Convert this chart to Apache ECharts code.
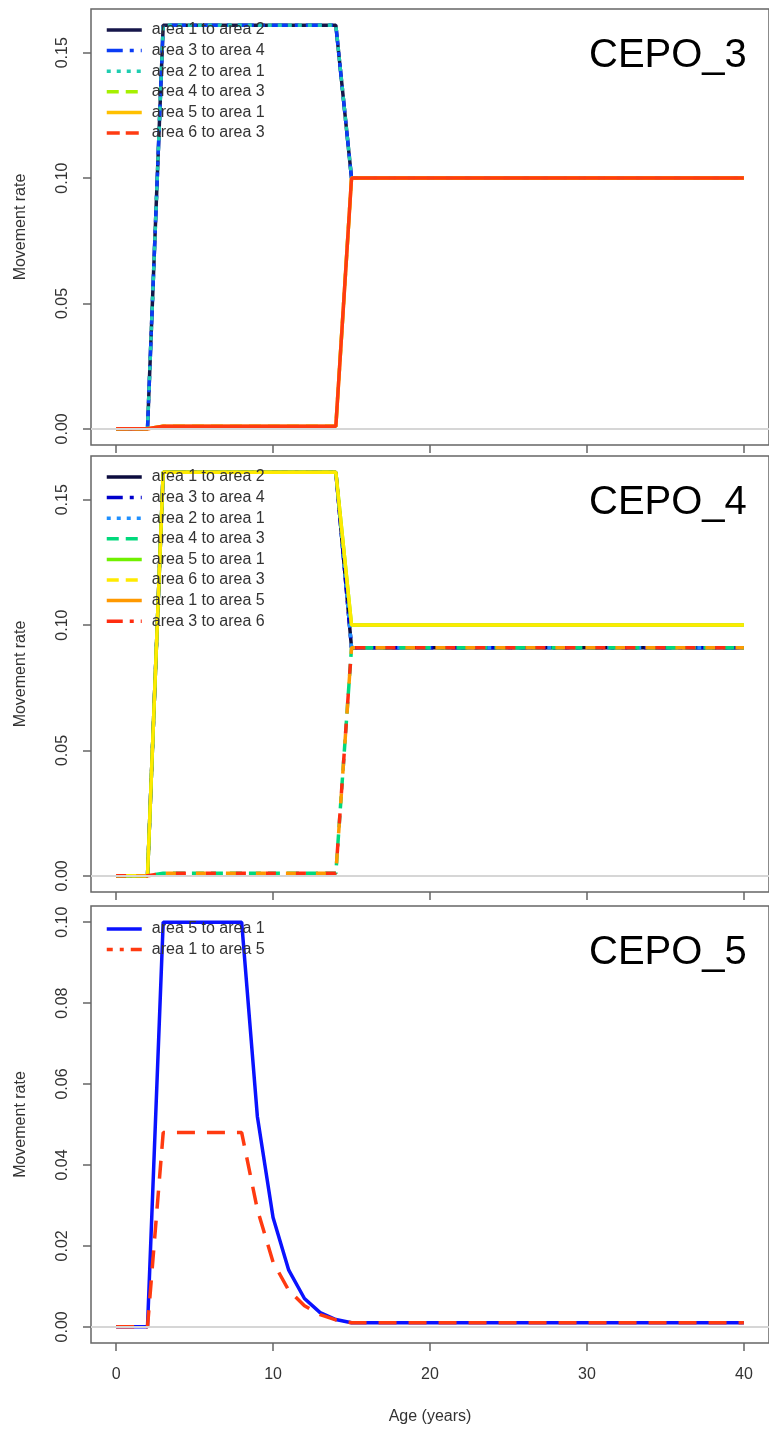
<!DOCTYPE html>
<html>
<head>
<meta charset="utf-8">
<script src="https://cdn.jsdelivr.net/npm/echarts@6/dist/echarts.min.js"></script>
<style>
html, body { margin: 0; padding: 0; background: #fff; }
#chart { width: 769px; height: 1431px; }
</style>
</head>
<body>
<div id="chart"></div>
<script>
const ages = [0, 1, 2, 3, 4, 5, 6, 7, 8, 9, 10, 11, 12, 13, 14, 15, 16, 17, 18, 19, 20,
  21, 22, 23, 24, 25, 26, 27, 28, 29, 30, 31, 32, 33, 34, 35, 36, 37, 38, 39, 40];
const xTicks = [0, 10, 20, 30, 40];
const yTicksWide = [0, 0.05, 0.1, 0.15];
const yTicksNarrow = [0, 0.02, 0.04, 0.06, 0.08, 0.1];
const panelTitles = ['CEPO_3', 'CEPO_4', 'CEPO_5'];

// CEPO_3
const cepo3Early = [0, 0, 0,
  0.161, 0.161, 0.161, 0.161, 0.161, 0.161, 0.161, 0.161, 0.161, 0.161, 0.161, 0.161,
  0.1, 0.1, 0.1, 0.1, 0.1, 0.1, 0.1, 0.1, 0.1, 0.1, 0.1, 0.1, 0.1,
  0.1, 0.1, 0.1, 0.1, 0.1, 0.1, 0.1, 0.1, 0.1, 0.1, 0.1, 0.1, 0.1];
const cepo3Late = [0, 0, 0,
  0.001, 0.001, 0.001, 0.001, 0.001, 0.001, 0.001, 0.001, 0.001, 0.001, 0.001, 0.001,
  0.1, 0.1, 0.1, 0.1, 0.1, 0.1, 0.1, 0.1, 0.1, 0.1, 0.1, 0.1, 0.1,
  0.1, 0.1, 0.1, 0.1, 0.1, 0.1, 0.1, 0.1, 0.1, 0.1, 0.1, 0.1, 0.1];

// CEPO_4
const cepo4Top = [0, 0, 0,
  0.161, 0.161, 0.161, 0.161, 0.161, 0.161, 0.161, 0.161, 0.161, 0.161, 0.161, 0.161,
  0.1, 0.1, 0.1, 0.1, 0.1, 0.1, 0.1, 0.1, 0.1, 0.1, 0.1, 0.1, 0.1,
  0.1, 0.1, 0.1, 0.1, 0.1, 0.1, 0.1, 0.1, 0.1, 0.1, 0.1, 0.1, 0.1];
const cepo4Mid = [0, 0, 0,
  0.161, 0.161, 0.161, 0.161, 0.161, 0.161, 0.161, 0.161, 0.161, 0.161, 0.161, 0.161,
  0.091, 0.091, 0.091, 0.091, 0.091, 0.091, 0.091, 0.091, 0.091, 0.091, 0.091, 0.091, 0.091,
  0.091, 0.091, 0.091, 0.091, 0.091, 0.091, 0.091, 0.091, 0.091, 0.091, 0.091, 0.091, 0.091];
const cepo4Low = [0, 0, 0,
  0.001, 0.001, 0.001, 0.001, 0.001, 0.001, 0.001, 0.001, 0.001, 0.001, 0.001, 0.001,
  0.091, 0.091, 0.091, 0.091, 0.091, 0.091, 0.091, 0.091, 0.091, 0.091, 0.091, 0.091, 0.091,
  0.091, 0.091, 0.091, 0.091, 0.091, 0.091, 0.091, 0.091, 0.091, 0.091, 0.091, 0.091, 0.091];

// CEPO_5
const cepo5Blue = [0, 0, 0,
  0.1, 0.1, 0.1, 0.1, 0.1, 0.1,
  0.052, 0.027, 0.014, 0.007, 0.0035, 0.0018,
  0.001, 0.001, 0.001, 0.001, 0.001, 0.001, 0.001, 0.001, 0.001, 0.001, 0.001, 0.001, 0.001,
  0.001, 0.001, 0.001, 0.001, 0.001, 0.001, 0.001, 0.001, 0.001, 0.001, 0.001, 0.001, 0.001];
const cepo5Red = [0, 0, 0,
  0.048, 0.048, 0.048, 0.048, 0.048, 0.048,
  0.029, 0.016, 0.009, 0.0052, 0.003, 0.0017,
  0.001, 0.001, 0.001, 0.001, 0.001, 0.001, 0.001, 0.001, 0.001, 0.001, 0.001, 0.001, 0.001,
  0.001, 0.001, 0.001, 0.001, 0.001, 0.001, 0.001, 0.001, 0.001, 0.001, 0.001, 0.001, 0.001];

const FONT = "'Liberation Sans', Arial, sans-serif";
const DOTDASH = [16, 7, 4, 7], DOTTED = [4, 6], DASHED = [12, 7];
const NONE = 'rgba(0,0,0,0)';

// [name, values, color, plot dash, legend dash, dash offset]
const panels = [
  {
    top: 9, height: 436, yMin: -0.00644, yMax: 0.16744, yTicks: yTicksWide,
    lines: [
      ['area 1 to area 2', cepo3Early, '#16164a', 'solid', 'solid'],
      ['area 3 to area 4', cepo3Early, '#0b3cf5', DOTDASH, DOTDASH],
      ['area 2 to area 1', cepo3Early, '#1fcdb0', DOTTED, DOTTED],
      ['area 4 to area 3', cepo3Late, '#a6f000', DASHED, DASHED],
      ['area 5 to area 1', cepo3Late, '#ffc000', 'solid', 'solid'],
      ['area 6 to area 3', cepo3Late, '#ff3b12', 'solid', [13, 6]]
    ]
  },
  {
    top: 456, height: 436, yMin: -0.00644, yMax: 0.16744, yTicks: yTicksWide,
    lines: [
      ['area 1 to area 2', cepo4Mid, '#0c0c3e', 'solid', 'solid'],
      ['area 3 to area 4', cepo4Mid, '#0000cc', DOTDASH, DOTDASH],
      ['area 2 to area 1', cepo4Mid, '#1e8fff', DOTTED, DOTTED],
      ['area 4 to area 3', cepo4Low, '#00d97c', DASHED, DASHED],
      ['area 5 to area 1', cepo4Top, '#70f000', 'solid', 'solid'],
      ['area 6 to area 3', cepo4Top, '#ffea00', 'solid', DASHED],
      ['area 1 to area 5', cepo4Low, '#ff9900', [10, 20], 'solid', 10],
      ['area 3 to area 6', cepo4Low, '#ff2d10', [10, 20], DOTDASH]
    ]
  },
  {
    top: 906, height: 437, yMin: -0.004, yMax: 0.104, yTicks: yTicksNarrow,
    lines: [
      ['area 5 to area 1', cepo5Blue, '#0a12ff', 'solid', 'solid'],
      ['area 1 to area 5', cepo5Red, '#ff3a10', [18, 12], DOTDASH]
    ]
  }
];

const chart = echarts.init(document.getElementById('chart'), null, { renderer: 'canvas' });

const grid = [], xAxis = [], yAxis = [], series = [], legend = [], title = [];
panels.forEach((p, i) => {
  grid.push({ left: 91, top: p.top, width: 684, height: p.height, show: true,
    borderColor: '#666', borderWidth: 1.5, backgroundColor: 'transparent' });
  xAxis.push({
    type: 'value', gridIndex: i, min: -1.6, max: 41.6,
    axisLine: { show: false, onZero: false }, splitLine: { show: false },
    axisTick: { show: true, customValues: xTicks, length: 8, lineStyle: { color: '#666', width: 1.5 } },
    axisLabel: { show: i === 2, customValues: xTicks, fontSize: 16, color: '#333', fontFamily: FONT, margin: 24 },
    name: i === 2 ? 'Age (years)' : '', nameLocation: 'middle', nameGap: 66,
    nameTextStyle: { fontSize: 16, color: '#333', fontFamily: FONT }
  });
  yAxis.push({
    type: 'value', gridIndex: i, min: p.yMin, max: p.yMax,
    axisLine: { show: false, onZero: false }, splitLine: { show: false },
    axisTick: { show: true, customValues: p.yTicks, length: 8, lineStyle: { color: '#666', width: 1.5 } },
    axisLabel: { customValues: p.yTicks, rotate: 90, fontSize: 16, color: '#333', fontFamily: FONT,
      margin: 20, formatter: v => v.toFixed(2) },
    name: 'Movement rate', nameLocation: 'middle', nameGap: 62,
    nameTextStyle: { fontSize: 16, color: '#333', fontFamily: FONT }
  });
  // light grey zero line, under the curves
  series.push({
    type: 'line', xAxisIndex: i, yAxisIndex: i, data: [[0, 0]], symbol: 'none',
    lineStyle: { opacity: 0 }, z: 1, silent: true, legendHoverLink: false,
    markLine: { silent: true, symbol: ['none', 'none'], label: { show: false },
      lineStyle: { color: '#d6d6d6', width: 2, type: 'solid' }, data: [{ yAxis: 0 }] }
  });
  p.lines.forEach(([name, values, color, dash, legendDash, offset]) => {
    series.push({
      name, type: 'line', xAxisIndex: i, yAxisIndex: i, z: 2,
      data: ages.map((a, k) => [a, values[k]]),
      symbol: 'none', showSymbol: false,
      itemStyle: { color },
      lineStyle: { color, width: 3.5, type: dash, dashOffset: offset || 0, cap: 'butt' }
    });
  });
  legend.push({
    orient: 'vertical', left: 105, top: p.top + 11 + (i === 2 ? 2 : 0), padding: 0,
    itemWidth: 35, itemHeight: 20, itemGap: 0.6, selectedMode: false,
    textStyle: { fontSize: 16, color: '#333', fontFamily: FONT, padding: [0, 0, 0, 5], lineHeight: 20 },
    data: p.lines.map(([name, , color, , legendDash]) => ({
      name, itemStyle: { color: NONE, borderColor: NONE, borderWidth: 0, opacity: 0 },
      lineStyle: { color, width: 3.5, type: legendDash, cap: 'butt' }
    }))
  });
  title.push({ text: panelTitles[i], left: 589, top: p.top + 27, padding: 0,
    textStyle: { fontSize: 40, fontWeight: 'normal', color: '#000', fontFamily: FONT } });
});

chart.setOption({ animation: false, backgroundColor: '#fff', grid, xAxis, yAxis, series, legend, title });
</script>
</body>
</html>
